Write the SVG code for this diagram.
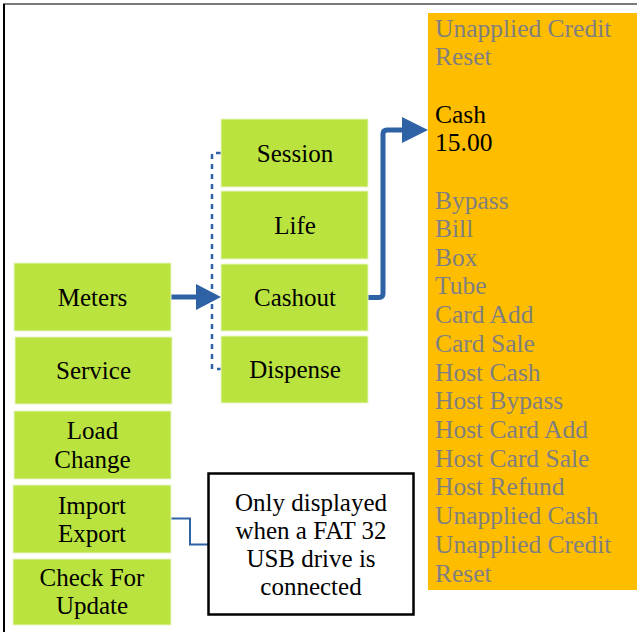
<svg xmlns="http://www.w3.org/2000/svg" width="637" height="632" viewBox="0 0 637 632">
<defs>
<style>
.g{fill:#bbe33f;stroke:#e8f5c8;stroke-width:1}
.t{font-family:"Liberation Serif","Times New Roman",serif;font-size:25px;fill:#000;text-anchor:middle}
.l{font-family:"Liberation Serif","Times New Roman",serif;font-size:25.5px;fill:#7f7f7f}
.k{fill:#000}
.c{fill:none;stroke:#2e62a5}
</style>
</defs>
<rect x="0" y="0" width="637" height="632" fill="#fff"/>
<line x1="3" y1="4" x2="637" y2="4" stroke="#7a7a7a" stroke-width="2"/>
<line x1="4" y1="4" x2="4" y2="632" stroke="#000" stroke-width="2"/>

<g id="list">
<rect x="428" y="13" width="209" height="577" fill="#ffbd00"/>
<text class="l" x="435" y="36.5">Unapplied Credit</text>
<text class="l" x="435" y="65">Reset</text>
<text class="l k" x="435" y="122.5">Cash</text>
<text class="l k" x="435" y="151">15.00</text>
<text class="l" x="435" y="208.5">Bypass</text>
<text class="l" x="435" y="237">Bill</text>
<text class="l" x="435" y="265.5">Box</text>
<text class="l" x="435" y="294">Tube</text>
<text class="l" x="435" y="323">Card Add</text>
<text class="l" x="435" y="352">Card Sale</text>
<text class="l" x="435" y="380.5">Host Cash</text>
<text class="l" x="435" y="409">Host Bypass</text>
<text class="l" x="435" y="438">Host Card Add</text>
<text class="l" x="435" y="466.5">Host Card Sale</text>
<text class="l" x="435" y="495">Host Refund</text>
<text class="l" x="435" y="524">Unapplied Cash</text>
<text class="l" x="435" y="553">Unapplied Credit</text>
<text class="l" x="435" y="581.5">Reset</text>
</g>

<g id="connectors">
<line class="c" x1="171" y1="297" x2="200" y2="297" stroke-width="5"/>
<polygon points="196,284 221,297 196,310" fill="#2e62a5"/>
<path class="c" d="M368,297.5 H379 Q383,297.5 383,293.5 V134 Q383,130 387,130 H405" stroke-width="5"/>
<polygon points="402,117 428,130 402,143" fill="#2e62a5"/>
<path class="c" d="M221,153 H212 V369 H221" stroke-width="2.5" stroke-dasharray="5 5"/>
<path class="c" d="M171,518.5 H190 V544.5 H208" stroke-width="2"/>
</g>

<g id="meters"><rect class="g" x="14" y="263" width="157" height="68"/><text class="t" x="92.5" y="305.5">Meters</text></g>
<g id="service"><rect class="g" x="15" y="337" width="157" height="67"/><text class="t" x="93.5" y="378.5">Service</text></g>
<g id="loadchange"><rect class="g" x="14" y="411" width="157" height="68"/><text class="t" x="92.5" y="438.5">Load</text><text class="t" x="92.5" y="467.5">Change</text></g>
<g id="importexport"><rect class="g" x="13" y="485" width="158" height="68"/><text class="t" x="92" y="513.5">Import</text><text class="t" x="92" y="542">Export</text></g>
<g id="checkforupdate"><rect class="g" x="13" y="559" width="158" height="66"/><text class="t" x="92" y="585.5">Check For</text><text class="t" x="92" y="613.5">Update</text></g>

<g id="session"><rect class="g" x="221" y="119" width="147" height="68"/><text class="t" x="295" y="162">Session</text></g>
<g id="life"><rect class="g" x="221" y="191" width="147" height="68"/><text class="t" x="295" y="233.5">Life</text></g>
<g id="cashout"><rect class="g" x="221" y="264" width="147" height="67"/><text class="t" x="295" y="305.5">Cashout</text></g>
<g id="dispense"><rect class="g" x="221" y="336" width="147" height="67"/><text class="t" x="295" y="377.5">Dispense</text></g>

<g id="note"><rect x="208.5" y="473.5" width="205" height="141" fill="#fff" stroke="#000" stroke-width="2.5"/>
<text class="t" x="311" y="510.5">Only displayed</text>
<text class="t" x="311" y="538.5">when a FAT 32</text>
<text class="t" x="311" y="567">USB drive is</text>
<text class="t" x="311" y="594.5">connected</text></g>
</svg>
